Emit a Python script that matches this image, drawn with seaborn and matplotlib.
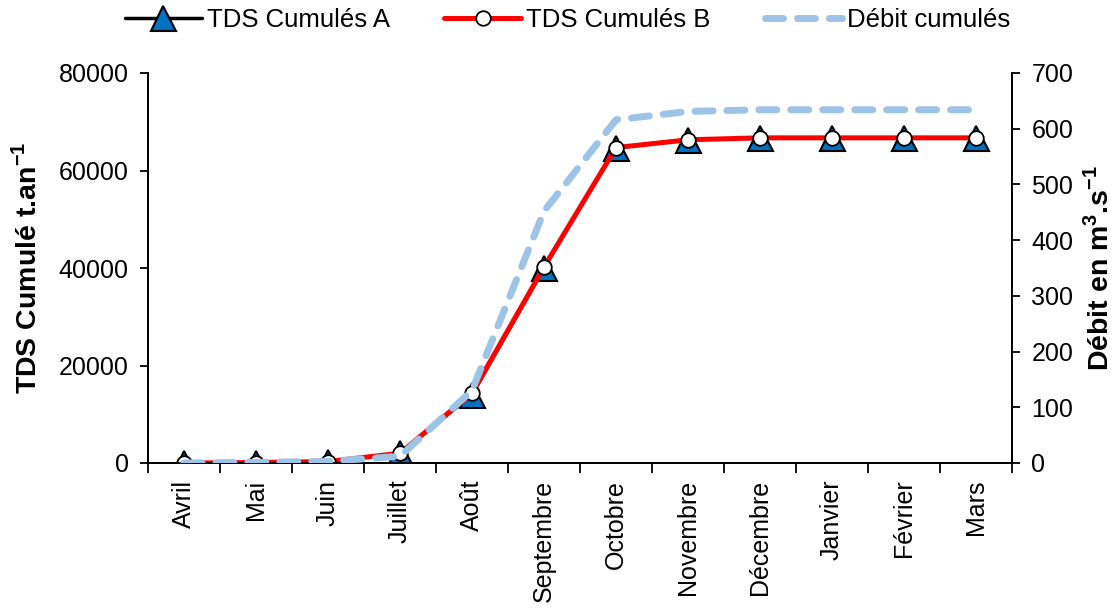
import matplotlib
matplotlib.use("Agg")
import matplotlib.pyplot as plt
import seaborn as sns
import numpy as np
import pandas as pd
from matplotlib.lines import Line2D

mois = ["Avril", "Mai", "Juin", "Juillet", "Août", "Septembre", "Octobre",
        "Novembre", "Décembre", "Janvier", "Février", "Mars"]
tds_a = [0, 100, 300, 2000, 14000, 40000, 64700, 66300, 66700, 66700, 66700, 66700]
tds_b = [0, 100, 300, 2000, 14300, 40200, 64700, 66300, 66700, 66700, 66700, 66700]
debit = [0, 1, 3, 12, 130, 452, 616, 631, 634, 634, 634, 634]

left_ticks = [0, 20000, 40000, 60000, 80000]
right_ticks = [0, 100, 200, 300, 400, 500, 600, 700]

sns.set_theme(style="white")
plt.rcParams['font.family'] = ['Liberation Sans', 'DejaVu Sans']
plt.rcParams['mathtext.fontset'] = 'custom'
plt.rcParams['mathtext.rm'] = 'Liberation Sans'
plt.rcParams['mathtext.bf'] = 'Liberation Sans:bold'
for k in ("text.color", "axes.labelcolor", "xtick.color", "ytick.color"):
    plt.rcParams[k] = "black"

df = pd.DataFrame({"x": np.arange(len(mois)), "A": tds_a, "B": tds_b, "D": debit})

fig = plt.figure(figsize=(11.17, 6.10), dpi=100)
ax = fig.add_axes([148/1117, 1-463/610, (1012-148)/1117, (463-73)/610])
ax2 = ax.twinx()

tri_kw = dict(marker="^", markersize=18, markerfacecolor="#0070C0",
              markeredgecolor="black", markeredgewidth=1.5)
cir_kw = dict(marker="o", markersize=10.5, markerfacecolor="white",
              markeredgecolor="black", markeredgewidth=1.3)

sns.lineplot(data=df, x="x", y="A", ax=ax, color="black", lw=2.5, zorder=3, **tri_kw)
sns.lineplot(data=df, x="x", y="B", ax=ax, color="#FF0000", lw=3.6, zorder=4, **cir_kw)
sns.lineplot(data=df, x="x", y="D", ax=ax2, color="#9DC3E6", lw=5, zorder=5)
line = ax2.get_lines()[0]
line.set_dashes((2.6, 2.0))
line.set_dash_capstyle("round")

ax.set_xlim(-0.5, len(mois) - 0.5)
ax.set_ylim(0, 80000)
ax2.set_ylim(0, 700)
ax.set_yticks(left_ticks)
ax.set_yticklabels([str(v) for v in left_ticks])
ax2.set_yticks(right_ticks)
ax2.set_yticklabels([str(v) for v in right_ticks])

ax.set_xticks(np.arange(len(mois)))
ax.set_xticklabels(mois, rotation=90, fontsize=18)
ax.set_xticks(np.arange(len(mois) + 1) - 0.5, minor=True)
ax.tick_params(axis="x", which="major", length=0, pad=12)
ax.tick_params(axis="x", which="minor", length=7, width=1.3, color="black", direction="out", bottom=True)
ax.tick_params(axis="y", length=6, width=1.3, color="black", direction="out", labelsize=18, left=True, pad=8)
ax2.tick_params(axis="y", length=6, width=1.3, color="black", direction="out", labelsize=18, right=True, pad=8)

for a in (ax, ax2):
    a.spines["top"].set_visible(False)
    for s in ("left", "right", "bottom"):
        a.spines[s].set_color("black")
        a.spines[s].set_linewidth(1.3)
    a.grid(False)

ax.set_xlabel("")
ax.set_ylabel(r"TDS Cumulé t.an$^{\mathbf{-1}}$", fontsize=20.5, fontweight="bold", labelpad=12)
ax2.set_ylabel(r"Débit en m$^{\mathbf{3}}$.s$^{\mathbf{-1}}$", fontsize=20.5, fontweight="bold", labelpad=8)

handles = [
    Line2D([], [], color="black", lw=2.5, **tri_kw),
    Line2D([], [], color="#FF0000", lw=3.6, **cir_kw),
    Line2D([], [], color="#9DC3E6", lw=5, dashes=(2.6, 2.0), dash_capstyle="round"),
]
fig.legend(handles, ["TDS Cumulés A", "TDS Cumulés B", "Débit cumulés"],
           loc="upper center", bbox_to_anchor=(0.508, 1.025), ncol=3, frameon=False,
           fontsize=18.5, handlelength=3.0, handletextpad=0.2, columnspacing=2.1)

fig.savefig("out.png", dpi=100)
